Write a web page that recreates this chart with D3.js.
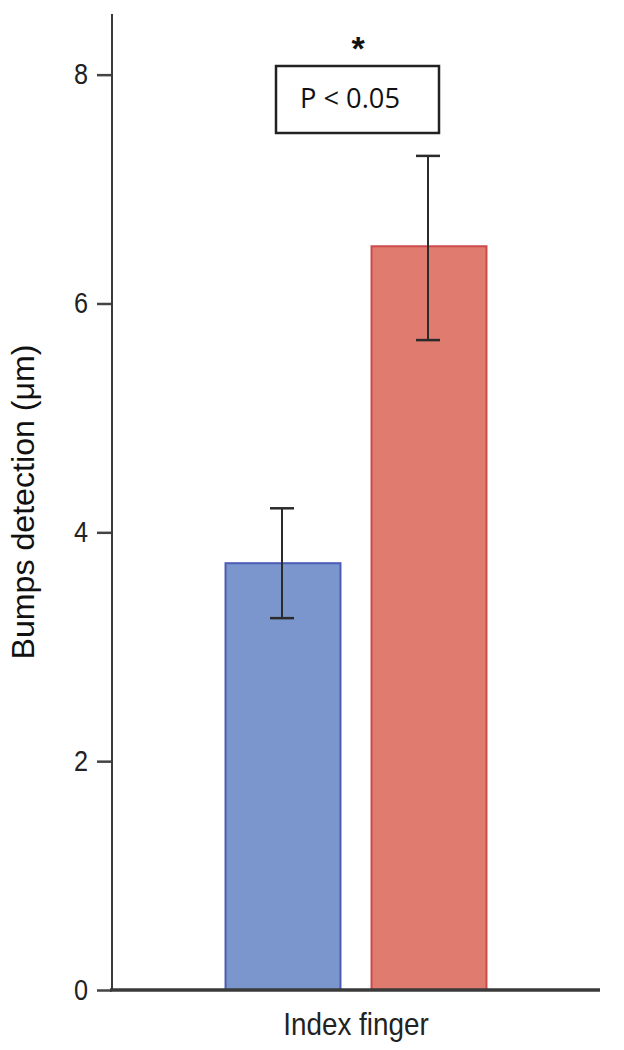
<!DOCTYPE html>
<html>
<head>
<meta charset="utf-8">
<script src="https://cdn.jsdelivr.net/npm/d3@7"></script>
<style>
  html, body { margin: 0; padding: 0; background: #ffffff; }
  svg { display: block; }
</style>
</head>
<body>
<svg id="chart" width="624" height="1050"></svg>
<script>
// ---- data ----
const categories = ["Index finger"];
const groups = ["Group 1", "Group 2"];
const means = [3.73, 6.50];
const errLow = [3.25, 5.68];
const errHigh = [4.21, 7.29];
const yTicks = [0, 2, 4, 6, 8];
const fills = ["#7a96cc", "#e07b6f"];
const strokes = ["#4b5cb5", "#cc4a4c"];
const yTitle = "Bumps detection (μm)";
const pLabel = "P < 0.05";
const starLabel = "*";

(function () {
// ---- layout ----
const svg = d3.select("#chart");
const mLeft = 112, mRight = 600, mTop = 14, mBottom = 990;
const squeeze = 0.87; // horizontal text compression seen in the reference
const sansFont = "Liberation Sans, Arial, sans-serif";

const y = d3.scaleLinear().domain([0, 8.53]).range([mBottom, mTop]);
const x0 = d3.scaleBand().domain(categories).range([mLeft, mRight]).paddingInner(0).paddingOuter(0.428);
const x1 = d3.scaleBand().domain(groups).range([0, x0.bandwidth()]).paddingInner(0.199).paddingOuter(0);

const data = groups.map((g, i) => ({ g, i, mean: means[i], lo: errLow[i], hi: errHigh[i] }));

// bars
const gCat = svg.append("g").attr("transform", `translate(${x0(categories[0])},0)`);
gCat.selectAll("rect.bar").data(data).enter().append("rect")
  .attr("class", "bar")
  .attr("x", d => x1(d.g) + 1)
  .attr("y", d => y(d.mean))
  .attr("width", x1.bandwidth() - 2)
  .attr("height", d => y(0) - y(d.mean))
  .attr("fill", d => fills[d.i])
  .attr("stroke", d => strokes[d.i])
  .attr("stroke-width", 2);

// error bars
const capW = 24;
const cx = d => x1(d.g) + x1.bandwidth() / 2 - 1;
const eb = gCat.selectAll("g.err").data(data).enter().append("g").attr("class", "err");
eb.append("line")
  .attr("x1", cx).attr("x2", cx)
  .attr("y1", d => y(d.lo)).attr("y2", d => y(d.hi))
  .attr("stroke", "#2b2b2b").attr("stroke-width", 2);
eb.append("line")
  .attr("x1", d => cx(d) - capW / 2).attr("x2", d => cx(d) + capW / 2)
  .attr("y1", d => y(d.hi)).attr("y2", d => y(d.hi))
  .attr("stroke", "#2b2b2b").attr("stroke-width", 2.5);
eb.append("line")
  .attr("x1", d => cx(d) - capW / 2).attr("x2", d => cx(d) + capW / 2)
  .attr("y1", d => y(d.lo)).attr("y2", d => y(d.lo))
  .attr("stroke", "#2b2b2b").attr("stroke-width", 2.5);

function squeezeText(sel) {
  sel.each(function () {
    const t = d3.select(this);
    const w = this.getComputedTextLength();
    t.attr("textLength", w * squeeze).attr("lengthAdjust", "spacingAndGlyphs");
  });
}

// y axis
const yAxis = d3.axisLeft(y).tickValues(yTicks).tickSize(15).tickPadding(9).tickFormat(d3.format("d"));
const gy = svg.append("g").attr("transform", `translate(${mLeft},0)`).call(yAxis);
gy.select(".domain").remove();
gy.selectAll(".tick line").attr("stroke", "#444").attr("stroke-width", 2.5);
gy.selectAll(".tick text")
  .attr("font-family", sansFont)
  .attr("font-size", 29).attr("fill", "#222")
  .call(squeezeText);
svg.append("line").attr("x1", mLeft).attr("x2", mLeft).attr("y1", mTop).attr("y2", mBottom)
  .attr("stroke", "#3a3a3a").attr("stroke-width", 2);

// x axis
const xAxis = d3.axisBottom(x0).tickSize(0).tickPadding(22);
const gx = svg.append("g").attr("transform", `translate(0,${mBottom})`).call(xAxis);
gx.select(".domain").remove();
gx.selectAll(".tick text")
  .attr("font-family", sansFont)
  .attr("font-size", 32).attr("fill", "#222")
  .call(squeezeText);
svg.append("line").attr("x1", mLeft - 2).attr("x2", mRight).attr("y1", mBottom).attr("y2", mBottom)
  .attr("stroke", "#3a3a3a").attr("stroke-width", 3.5);

// y title
svg.append("text")
  .attr("transform", `translate(34,502) rotate(-90)`)
  .attr("text-anchor", "middle")
  .attr("font-family", sansFont)
  .attr("font-size", 32).attr("fill", "#111")
  .text(yTitle)
  .call(sel => sel.attr("textLength", 315).attr("lengthAdjust", "spacingAndGlyphs"));

// significance annotation
svg.append("rect").attr("x", 276).attr("y", 66).attr("width", 163).attr("height", 67)
  .attr("fill", "#fff").attr("stroke", "#222").attr("stroke-width", 2.5);
svg.append("text").attr("x", 350).attr("y", 108).attr("text-anchor", "middle")
  .attr("font-family", "Open Sans, sans-serif").attr("font-size", 28).attr("fill", "#111")
  .text(pLabel)
  .call(sel => sel.attr("textLength", 100).attr("lengthAdjust", "spacingAndGlyphs"));
svg.append("text").attr("x", 358).attr("y", 60).attr("text-anchor", "middle")
  .attr("font-family", sansFont).attr("font-size", 34).attr("font-weight", "bold").attr("fill", "#111")
  .text(starLabel);
})();
</script>
</body>
</html>
